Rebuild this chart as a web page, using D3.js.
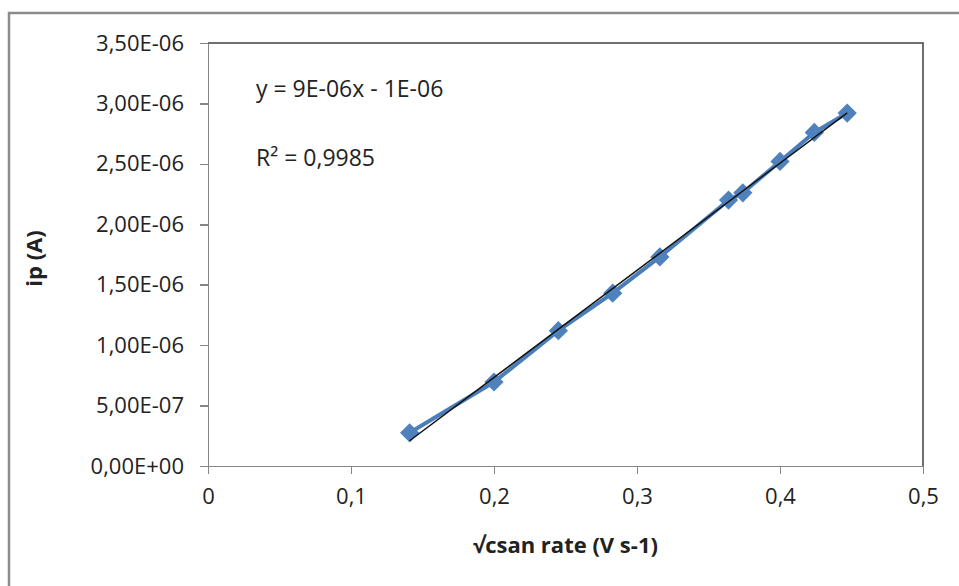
<!DOCTYPE html>
<html>
<head>
<meta charset="utf-8">
<script src="https://cdn.jsdelivr.net/npm/d3@7"></script>
<style>
  body { margin: 0; background: #fff; }
  svg { display: block; font-family: "Open Sans", sans-serif; }
</style>
</head>
<body>
<svg id="chart" width="959" height="586"></svg>
<script>
  // data: square root of scan rate vs peak current
  const sqrtScanRate = [0.141, 0.2, 0.245, 0.283, 0.316, 0.364, 0.374, 0.4, 0.424, 0.447];
  const peakCurrent = [2.75e-7, 6.95e-7, 1.12e-6, 1.43e-6, 1.73e-6, 2.2e-6, 2.26e-6, 2.52e-6, 2.76e-6, 2.92e-6];
  const xTicks = [0, 0.1, 0.2, 0.3, 0.4, 0.5];
  const yTicks = [0, 5e-7, 1e-6, 1.5e-6, 2e-6, 2.5e-6, 3e-6, 3.5e-6];
  const yTickLabels = ["0,00E+00", "5,00E-07", "1,00E-06", "1,50E-06", "2,00E-06", "2,50E-06", "3,00E-06", "3,50E-06"];
  const equationText = "y = 9E-06x - 1E-06";
  const r2Text = "R² = 0,9985";

  const data = sqrtScanRate.map((x, i) => ({ x: x, y: peakCurrent[i] }));

  // chart dimensions
  const marginLeft = 208;
  const marginTop = 43;
  const plotRight = 923;
  const plotBottom = 466;

  const svg = d3.select("#chart");

  // outer chart border (only top and left are visible)
  svg.append("rect")
    .attr("x", 9)
    .attr("y", 13)
    .attr("width", 1000)
    .attr("height", 700)
    .attr("fill", "none")
    .attr("stroke", "#8c8c8c")
    .attr("stroke-width", 2.5);

  const x = d3.scaleLinear().domain([0, 0.5]).range([marginLeft, plotRight]);
  const y = d3.scaleLinear().domain([0, 3.5e-6]).range([plotBottom, marginTop]);

  // plot area border top + right
  svg.append("path")
    .attr("d", `M${marginLeft},${marginTop}H${plotRight}V${plotBottom}`)
    .attr("fill", "none")
    .attr("stroke", "#404040")
    .attr("stroke-width", 1.5);

  // axes
  const xAxis = svg.append("g")
    .attr("transform", `translate(0,${plotBottom})`)
    .call(d3.axisBottom(x).tickValues(xTicks).tickSize(8).tickSizeOuter(0)
      .tickFormat(d => String(d).replace(".", ",")));
  xAxis.select(".domain").attr("stroke", "#868686").attr("stroke-width", 1.5)
    .attr("d", `M${marginLeft - 8},0.5H${plotRight}`);
  xAxis.selectAll(".tick line").attr("stroke", "#868686").attr("stroke-width", 1.5);
  xAxis.selectAll(".tick text")
    .attr("y", 22)
    .attr("font-size", 22)
    .attr("font-family", "Open Sans")
    .attr("fill", "#222");

  const yAxis = svg.append("g")
    .attr("transform", `translate(${marginLeft},0)`)
    .call(d3.axisLeft(y).tickValues(yTicks).tickSize(8).tickSizeOuter(0)
      .tickFormat((d, i) => yTickLabels[i]));
  yAxis.select(".domain").attr("stroke", "#868686").attr("stroke-width", 1.5);
  yAxis.selectAll(".tick line").attr("stroke", "#868686").attr("stroke-width", 1.5);
  yAxis.selectAll(".tick text")
    .attr("x", -24)
    .attr("font-size", 22)
    .attr("font-family", "Open Sans")
    .attr("fill", "#222");
  svg.selectAll(".domain, .tick line").attr("shape-rendering", "crispEdges");

  // axis titles
  svg.append("text")
    .attr("x", (marginLeft + plotRight) / 2)
    .attr("y", 553)
    .attr("text-anchor", "middle")
    .attr("font-size", 22)
    .attr("font-weight", "bold")
    .attr("fill", "#222")
    .text("√csan rate (V s-1)");

  svg.append("text")
    .attr("transform", `translate(42,${(marginTop + plotBottom) / 2 + 4}) rotate(-90)`)
    .attr("text-anchor", "middle")
    .attr("font-size", 22)
    .attr("font-weight", "bold")
    .attr("fill", "#222")
    .text("ip (A)");

  // series line
  const line = d3.line().x(d => x(d.x)).y(d => y(d.y));
  svg.append("path")
    .datum(data)
    .attr("fill", "none")
    .attr("stroke", "#4a7ebb")
    .attr("stroke-width", 4)
    .attr("d", line);

  // diamond markers
  const diamond = d3.symbol().type(d3.symbolSquare).size(185);
  svg.selectAll(".marker")
    .data(data)
    .enter()
    .append("path")
    .attr("class", "marker")
    .attr("d", diamond)
    .attr("transform", d => `translate(${x(d.x)},${y(d.y)}) rotate(45)`)
    .attr("fill", "#4f81bd");

  // linear trendline (least squares)
  const mx = d3.mean(data, d => d.x);
  const my = d3.mean(data, d => d.y);
  const slope = d3.sum(data, d => (d.x - mx) * (d.y - my)) / d3.sum(data, d => (d.x - mx) ** 2);
  const intercept = my - slope * mx;
  const xExtent = d3.extent(data, d => d.x);
  svg.append("path")
    .datum(xExtent.map(v => ({ x: v, y: slope * v + intercept })))
    .attr("fill", "none")
    .attr("stroke", "#111")
    .attr("stroke-width", 1.5)
    .attr("d", line);

  // trendline labels
  svg.append("text")
    .attr("x", 256)
    .attr("y", 97)
    .attr("font-size", 23)
    .attr("fill", "#222")
    .text(equationText);
  svg.append("text")
    .attr("x", 256)
    .attr("y", 166)
    .attr("font-size", 23)
    .attr("fill", "#222")
    .text(r2Text);
</script>
</body>
</html>
